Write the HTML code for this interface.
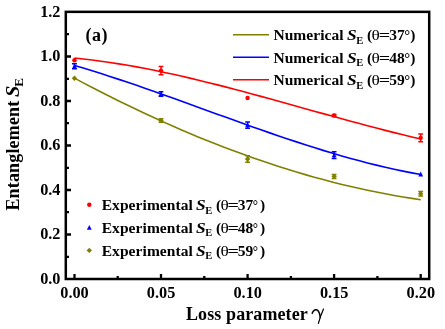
<!DOCTYPE html>
<html><head><meta charset="utf-8"><title>chart</title>
<style>
html,body{margin:0;padding:0;background:#fff;}
body{width:445px;height:329px;overflow:hidden;}
svg{display:block;will-change:transform;}
text{font-family:"Liberation Serif",serif;font-weight:bold;fill:#000;white-space:pre;}
.tk{font-size:16.3px;}
.lg{font-size:15.5px;}
.ax{font-size:18px;}
.it{font-style:italic;}
.th{font-weight:normal;}
</style></head><body>
<svg width="445" height="329" viewBox="0 0 445 329">
<rect x="0" y="0" width="445" height="329" fill="#fff"/>
<path d="M74.4,78.15 L83.3,82.86 L92.2,87.50 L101.0,92.06 L109.9,96.55 L118.8,100.96 L127.7,105.30 L136.6,109.56 L145.5,113.74 L154.3,117.84 L163.2,121.87 L172.1,125.81 L181.0,129.67 L189.9,133.45 L198.7,137.14 L207.6,140.75 L216.5,144.28 L225.4,147.72 L234.3,151.07 L243.2,154.33 L252.0,157.51 L260.9,160.59 L269.8,163.58 L278.7,166.49 L287.6,169.30 L296.5,172.01 L305.3,174.63 L314.2,177.16 L323.1,179.59 L332.0,181.92 L340.9,184.16 L349.7,186.29 L358.6,188.33 L367.5,190.26 L376.4,192.09 L385.3,193.82 L394.2,195.45 L403.0,196.97 L411.9,198.39 L420.8,199.70" fill="none" stroke="#808000" stroke-width="1.6" stroke-linejoin="round"/>
<path d="M74.4,65.47 L83.3,68.10 L92.2,70.81 L101.0,73.60 L109.9,76.45 L118.8,79.37 L127.7,82.34 L136.6,85.36 L145.5,88.43 L154.3,91.54 L163.2,94.68 L172.1,97.85 L181.0,101.04 L189.9,104.24 L198.7,107.46 L207.6,110.68 L216.5,113.90 L225.4,117.11 L234.3,120.31 L243.2,123.49 L252.0,126.65 L260.9,129.78 L269.8,132.87 L278.7,135.92 L287.6,138.93 L296.5,141.88 L305.3,144.77 L314.2,147.61 L323.1,150.37 L332.0,153.05 L340.9,155.65 L349.7,158.17 L358.6,160.60 L367.5,162.92 L376.4,165.14 L385.3,167.26 L394.2,169.25 L403.0,171.13 L411.9,172.88 L420.8,174.49" fill="none" stroke="#0000ff" stroke-width="1.6" stroke-linejoin="round"/>
<path d="M74.4,58.04 L83.3,58.97 L92.2,60.02 L101.0,61.19 L109.9,62.47 L118.8,63.85 L127.7,65.33 L136.6,66.91 L145.5,68.58 L154.3,70.34 L163.2,72.18 L172.1,74.09 L181.0,76.07 L189.9,78.13 L198.7,80.24 L207.6,82.41 L216.5,84.63 L225.4,86.90 L234.3,89.21 L243.2,91.56 L252.0,93.95 L260.9,96.36 L269.8,98.79 L278.7,101.25 L287.6,103.71 L296.5,106.19 L305.3,108.67 L314.2,111.15 L323.1,113.62 L332.0,116.08 L340.9,118.53 L349.7,120.95 L358.6,123.35 L367.5,125.72 L376.4,128.06 L385.3,130.36 L394.2,132.61 L403.0,134.81 L411.9,136.96 L420.8,139.06" fill="none" stroke="#ff0000" stroke-width="1.6" stroke-linejoin="round"/>

<path d="M74.45,75.60 L77.15,78.30 L74.45,81.00 L71.75,78.30Z" fill="#808000"/>
<path d="M161.0,118.7 V122.3 M158.6,118.7 H163.4 M158.6,122.3 H163.4" stroke="#808000" stroke-width="1.5" fill="none"/>
<path d="M161.01,117.80 L163.71,120.50 L161.01,123.20 L158.31,120.50Z" fill="#808000"/>
<path d="M247.6,155.8 V162.2 M245.2,155.8 H250.0 M245.2,162.2 H250.0" stroke="#808000" stroke-width="1.5" fill="none"/>
<path d="M247.57,156.30 L250.27,159.00 L247.57,161.70 L244.88,159.00Z" fill="#808000"/>
<path d="M334.1,174.4 V178.4 M331.7,174.4 H336.5 M331.7,178.4 H336.5" stroke="#808000" stroke-width="1.5" fill="none"/>
<path d="M334.14,173.70 L336.84,176.40 L334.14,179.10 L331.44,176.40Z" fill="#808000"/>
<path d="M420.7,191.5 V196.1 M418.3,191.5 H423.1 M418.3,196.1 H423.1" stroke="#808000" stroke-width="1.5" fill="none"/>
<path d="M420.70,191.10 L423.40,193.80 L420.70,196.50 L418.00,193.80Z" fill="#808000"/>
<path d="M74.5,63.8 V68.8 M72.0,63.8 H76.9 M72.0,68.8 H76.9" stroke="#0000ff" stroke-width="1.5" fill="none"/>
<path d="M74.45,63.70 L76.85,68.50 L72.05,68.50Z" fill="#0000ff"/>
<path d="M161.0,91.8 V96.2 M158.6,91.8 H163.4 M158.6,96.2 H163.4" stroke="#0000ff" stroke-width="1.5" fill="none"/>
<path d="M161.01,91.40 L163.41,96.20 L158.61,96.20Z" fill="#0000ff"/>
<path d="M247.6,122.0 V128.2 M245.2,122.0 H250.0 M245.2,128.2 H250.0" stroke="#0000ff" stroke-width="1.5" fill="none"/>
<path d="M247.57,122.50 L249.97,127.30 L245.17,127.30Z" fill="#0000ff"/>
<path d="M334.1,151.8 V158.4 M331.7,151.8 H336.5 M331.7,158.4 H336.5" stroke="#0000ff" stroke-width="1.5" fill="none"/>
<path d="M334.14,152.45 L336.54,157.25 L331.74,157.25Z" fill="#0000ff"/>

<path d="M420.70,171.60 L423.10,176.40 L418.30,176.40Z" fill="#0000ff"/>

<circle cx="74.45" cy="60.25" r="2.2" fill="#ff0000"/>
<path d="M161.0,66.4 V74.8 M158.6,66.4 H163.4 M158.6,74.8 H163.4" stroke="#ff0000" stroke-width="1.5" fill="none"/>
<circle cx="161.01" cy="70.60" r="2.2" fill="#ff0000"/>

<circle cx="247.57" cy="98.00" r="2.2" fill="#ff0000"/>
<path d="M334.1,114.5 V116.5 M331.7,114.5 H336.5 M331.7,116.5 H336.5" stroke="#ff0000" stroke-width="1.5" fill="none"/>
<circle cx="334.14" cy="115.45" r="2.2" fill="#ff0000"/>
<path d="M420.7,134.0 V141.7 M418.3,134.0 H423.1 M418.3,141.7 H423.1" stroke="#ff0000" stroke-width="1.5" fill="none"/>
<circle cx="420.70" cy="137.85" r="2.2" fill="#ff0000"/>
<rect x="65.8" y="11.85" width="363.4" height="267.15" fill="none" stroke="#000" stroke-width="2.5"/>
<path d="M74.5,278 V274 M161.0,278 V274 M247.6,278 V274 M334.1,278 V274 M420.7,278 V274 M117.7,278 V276 M204.3,278 V276 M290.9,278 V276 M377.4,278 V276 M67,234.5 H71 M67,190.0 H71 M67,145.5 H71 M67,101.0 H71 M67,56.5 H71 M67,256.8 H69 M67,212.2 H69 M67,167.8 H69 M67,123.2 H69 M67,78.8 H69 M67,34.2 H69" stroke="#000" stroke-width="2.3" fill="none"/>
<text class="tk" x="60.5" y="283.7" text-anchor="end">0.0</text>
<text class="tk" x="60.5" y="239.2" text-anchor="end">0.2</text>
<text class="tk" x="60.5" y="194.7" text-anchor="end">0.4</text>
<text class="tk" x="60.5" y="150.2" text-anchor="end">0.6</text>
<text class="tk" x="60.5" y="105.7" text-anchor="end">0.8</text>
<text class="tk" x="60.5" y="61.2" text-anchor="end">1.0</text>
<text class="tk" x="60.5" y="16.7" text-anchor="end">1.2</text>
<text class="tk" x="74.5" y="297.6" text-anchor="middle">0.00</text>
<text class="tk" x="161.1" y="297.6" text-anchor="middle">0.05</text>
<text class="tk" x="247.7" y="297.6" text-anchor="middle">0.10</text>
<text class="tk" x="334.2" y="297.6" text-anchor="middle">0.15</text>
<text class="tk" x="420.8" y="297.6" text-anchor="middle">0.20</text>
<text class="ax" x="186" y="319.5" style="letter-spacing:0.1px">Loss parameter</text>
<path d="M312.2,313.3 C313.0,310.8 315.0,309.2 316.6,309.8 C318.6,310.6 319.9,314 320.3,317.6" fill="none" stroke="#000" stroke-width="1.5" stroke-linecap="round"/>
<path d="M323.5,309.1 C322,312.5 319.6,318.8 318.4,323.3" fill="none" stroke="#000" stroke-width="1.25" stroke-linecap="round"/>
<g transform="translate(18.5,210.6) rotate(-90)"><text x="0.00" y="0.00" style="font-size:18px;font-weight:bold;font-style:normal;letter-spacing:0.17px">Entanglement</text><text transform="translate(113.59,0.00) scale(1.13,1)" style="font-size:18px;font-weight:bold;font-style:italic">S</text><text x="123.90" y="4.60" style="font-size:13px;font-weight:bold;font-style:normal;letter-spacing:0px">E</text></g>
<text class="ax" x="85.6" y="41" font-size="17" letter-spacing="0.5">(a)</text>
<path d="M233,34.8 H269" stroke="#808000" stroke-width="1.6"/>
<text x="273.40" y="40.00" style="font-size:15.5px;font-weight:bold;font-style:normal;letter-spacing:0.06px">Numerical</text><text transform="translate(346.94,40.00) scale(1.12,1)" style="font-size:15.5px;font-weight:bold;font-style:italic">S</text><text x="356.30" y="43.60" style="font-size:10.5px;font-weight:bold;font-style:normal;letter-spacing:0px">E</text><text x="363.10" y="40.00" style="font-size:15.5px;font-weight:bold;font-style:normal;letter-spacing:0px"> (</text><text transform="translate(371.54,40.00) scale(1.12,1)" style="font-size:15.5px;font-weight:normal;font-style:normal">θ</text><text transform="translate(378.65,40.00) scale(1.3,1)" style="font-size:15.5px;font-weight:bold;font-style:normal">=</text><text x="389.23" y="40.00" style="font-size:15.5px;font-weight:bold;font-style:normal;letter-spacing:0px">37</text><text transform="translate(404.13,40.00) scale(0.95,1)" style="font-size:15.5px;font-weight:bold;font-style:normal">°</text><text x="410.32" y="40.00" style="font-size:15.5px;font-weight:bold;font-style:normal;letter-spacing:0px">)</text>
<path d="M233,57.3 H269" stroke="#0000ff" stroke-width="1.6"/>
<text x="273.40" y="62.50" style="font-size:15.5px;font-weight:bold;font-style:normal;letter-spacing:0.06px">Numerical</text><text transform="translate(346.94,62.50) scale(1.12,1)" style="font-size:15.5px;font-weight:bold;font-style:italic">S</text><text x="356.30" y="66.10" style="font-size:10.5px;font-weight:bold;font-style:normal;letter-spacing:0px">E</text><text x="363.10" y="62.50" style="font-size:15.5px;font-weight:bold;font-style:normal;letter-spacing:0px"> (</text><text transform="translate(371.54,62.50) scale(1.12,1)" style="font-size:15.5px;font-weight:normal;font-style:normal">θ</text><text transform="translate(378.65,62.50) scale(1.3,1)" style="font-size:15.5px;font-weight:bold;font-style:normal">=</text><text x="389.23" y="62.50" style="font-size:15.5px;font-weight:bold;font-style:normal;letter-spacing:0px">48</text><text transform="translate(404.13,62.50) scale(0.95,1)" style="font-size:15.5px;font-weight:bold;font-style:normal">°</text><text x="410.32" y="62.50" style="font-size:15.5px;font-weight:bold;font-style:normal;letter-spacing:0px">)</text>
<path d="M233,79.8 H269" stroke="#ff0000" stroke-width="1.6"/>
<text x="273.40" y="85.00" style="font-size:15.5px;font-weight:bold;font-style:normal;letter-spacing:0.06px">Numerical</text><text transform="translate(346.94,85.00) scale(1.12,1)" style="font-size:15.5px;font-weight:bold;font-style:italic">S</text><text x="356.30" y="88.60" style="font-size:10.5px;font-weight:bold;font-style:normal;letter-spacing:0px">E</text><text x="363.10" y="85.00" style="font-size:15.5px;font-weight:bold;font-style:normal;letter-spacing:0px"> (</text><text transform="translate(371.54,85.00) scale(1.12,1)" style="font-size:15.5px;font-weight:normal;font-style:normal">θ</text><text transform="translate(378.65,85.00) scale(1.3,1)" style="font-size:15.5px;font-weight:bold;font-style:normal">=</text><text x="389.23" y="85.00" style="font-size:15.5px;font-weight:bold;font-style:normal;letter-spacing:0px">59</text><text transform="translate(404.13,85.00) scale(0.95,1)" style="font-size:15.5px;font-weight:bold;font-style:normal">°</text><text x="410.32" y="85.00" style="font-size:15.5px;font-weight:bold;font-style:normal;letter-spacing:0px">)</text>
<circle cx="89.30" cy="204.80" r="2.2" fill="#ff0000"/>
<text x="101.70" y="210.00" style="font-size:15.5px;font-weight:bold;font-style:normal;letter-spacing:0.07px">Experimental</text><text transform="translate(195.91,210.00) scale(1.12,1)" style="font-size:15.5px;font-weight:bold;font-style:italic">S</text><text x="205.26" y="213.60" style="font-size:10.5px;font-weight:bold;font-style:normal;letter-spacing:0px">E</text><text x="212.07" y="210.00" style="font-size:15.5px;font-weight:bold;font-style:normal;letter-spacing:0px"> (</text><text transform="translate(220.50,210.00) scale(1.12,1)" style="font-size:15.5px;font-weight:normal;font-style:normal">θ</text><text transform="translate(227.62,210.00) scale(1.3,1)" style="font-size:15.5px;font-weight:bold;font-style:normal">=</text><text x="237.80" y="210.00" style="font-size:15.5px;font-weight:bold;font-style:normal;letter-spacing:0px">37</text><text transform="translate(252.70,210.00) scale(0.85,1)" style="font-size:15.5px;font-weight:bold;font-style:normal">°</text><text x="259.97" y="210.00" style="font-size:15.5px;font-weight:bold;font-style:normal;letter-spacing:0px">)</text>
<path d="M89.30,225.00 L91.70,229.80 L86.90,229.80Z" fill="#0000ff"/>
<text x="101.70" y="232.80" style="font-size:15.5px;font-weight:bold;font-style:normal;letter-spacing:0.07px">Experimental</text><text transform="translate(195.91,232.80) scale(1.12,1)" style="font-size:15.5px;font-weight:bold;font-style:italic">S</text><text x="205.26" y="236.40" style="font-size:10.5px;font-weight:bold;font-style:normal;letter-spacing:0px">E</text><text x="212.07" y="232.80" style="font-size:15.5px;font-weight:bold;font-style:normal;letter-spacing:0px"> (</text><text transform="translate(220.50,232.80) scale(1.12,1)" style="font-size:15.5px;font-weight:normal;font-style:normal">θ</text><text transform="translate(227.62,232.80) scale(1.3,1)" style="font-size:15.5px;font-weight:bold;font-style:normal">=</text><text x="237.80" y="232.80" style="font-size:15.5px;font-weight:bold;font-style:normal;letter-spacing:0px">48</text><text transform="translate(252.70,232.80) scale(0.85,1)" style="font-size:15.5px;font-weight:bold;font-style:normal">°</text><text x="259.97" y="232.80" style="font-size:15.5px;font-weight:bold;font-style:normal;letter-spacing:0px">)</text>
<path d="M89.30,247.70 L92.00,250.40 L89.30,253.10 L86.60,250.40Z" fill="#808000"/>
<text x="101.70" y="255.60" style="font-size:15.5px;font-weight:bold;font-style:normal;letter-spacing:0.07px">Experimental</text><text transform="translate(195.91,255.60) scale(1.12,1)" style="font-size:15.5px;font-weight:bold;font-style:italic">S</text><text x="205.26" y="259.20" style="font-size:10.5px;font-weight:bold;font-style:normal;letter-spacing:0px">E</text><text x="212.07" y="255.60" style="font-size:15.5px;font-weight:bold;font-style:normal;letter-spacing:0px"> (</text><text transform="translate(220.50,255.60) scale(1.12,1)" style="font-size:15.5px;font-weight:normal;font-style:normal">θ</text><text transform="translate(227.62,255.60) scale(1.3,1)" style="font-size:15.5px;font-weight:bold;font-style:normal">=</text><text x="237.80" y="255.60" style="font-size:15.5px;font-weight:bold;font-style:normal;letter-spacing:0px">59</text><text transform="translate(252.70,255.60) scale(0.85,1)" style="font-size:15.5px;font-weight:bold;font-style:normal">°</text><text x="259.97" y="255.60" style="font-size:15.5px;font-weight:bold;font-style:normal;letter-spacing:0px">)</text>
</svg></body></html>
